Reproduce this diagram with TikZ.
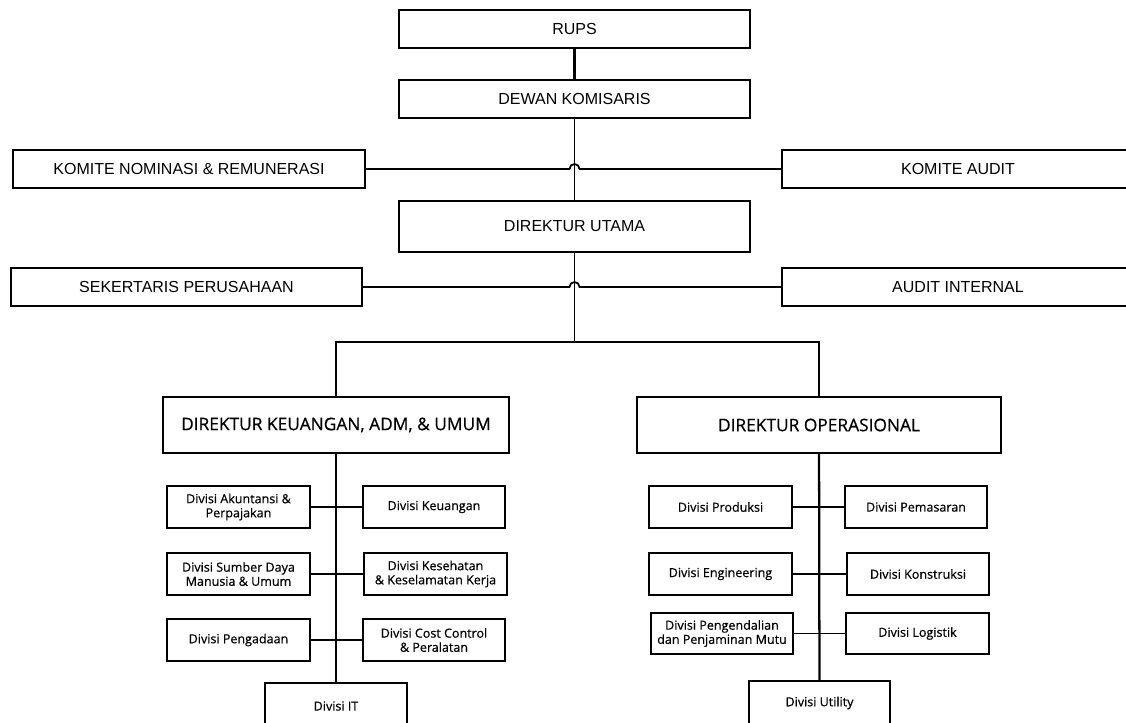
\documentclass[tikz,border=0pt]{standalone}
\usepackage{fontspec}
\setmainfont{Liberation Sans}
\newfontfamily\divfont{Open Sans}[FakeBold=0.6]
\usetikzlibrary{positioning, calc}

\tikzset{
	dim/.style 2 args={minimum width=#1*0.75pt, minimum height=#2*0.75pt},
	topbox/.style={draw, line width=1.2pt, inner sep=0pt, font=\fontsize{12}{14}\selectfont},
	dirbox/.style={draw, line width=1.3pt, inner sep=0pt, font=\divfont\fontsize{13}{15}\selectfont},
	divbox/.style={draw, line width=1.3pt, inner sep=0pt, align=center, font=\divfont\fontsize{9.4}{10.6}\selectfont},
	link/.style={line width=1.3pt},
	trunk/.style={line width=1.7pt}
}

\begin{document}
\begin{tikzpicture}[x=0.75pt, y=-0.75pt]
	\useasboundingbox (0,0) rectangle (1126,722);
	% top of the chart
	\node[topbox, dim={351}{38}] (rups) at (574.5,29) {RUPS};
	\node[topbox, dim={351}{38}] (dewan) at (574.5,99) {DEWAN KOMISARIS};
	\node[topbox, dim={352}{38}] (nominasi) at (189,169) {KOMITE NOMINASI \& REMUNERASI};
	\node[topbox, dim={352}{38}] (komaudit) at (958,169) {KOMITE AUDIT};
	\node[topbox, dim={351}{51}] (utama) at (574.5,226.5) {DIREKTUR UTAMA};
	\node[topbox, dim={351}{38}] (sekper) at (186.5,287) {SEKERTARIS PERUSAHAAN};
	\node[topbox, dim={352}{38}] (auditint) at (958,287) {AUDIT INTERNAL};
	\coordinate (split) at (574.5,342);

	\draw[trunk] (rups) -- (dewan);
	\draw[link] (dewan) -- (utama);
	\draw[link] (nominasi) -- ($(nominasi.east -| dewan.south)+(-5,0)$) arc (180:360:5) -- (komaudit);
	\draw[link] (utama) -- (split);
	\draw[link] (sekper) -- ($(sekper.east -| utama.south)+(-5,0)$) arc (180:360:5) -- (auditint);

	% the two directors
	\node[dirbox, dim={346}{56}] (dkeu) at (336,425) {DIREKTUR KEUANGAN, ADM, \& UMUM};
	\node[dirbox, dim={364}{56}] (dops) at (819,425) {DIREKTUR OPERASIONAL};
	\draw[link] (dkeu) -- (dkeu.north |- split) -- (dops.north |- split) -- (dops);

	% divisions under keuangan
	\node[divbox, dim={143}{42}] (akun) at (238.5,507) {Divisi Akuntansi \&\\Perpajakan};
	\node[divbox, dim={142}{42}] (keu) at (434,507) {Divisi Keuangan};
	\node[divbox, dim={143}{42}] (sdm) at (238.5,574) {Divisi Sumber Daya\\Manusia \& Umum};
	\node[divbox, dim={143}{42}] (ktiga) at (435.5,574) {Divisi Kesehatan\\\& Keselamatan Kerja};
	\node[divbox, dim={143}{42}] (pengadaan) at (238.5,640) {Divisi Pengadaan};
	\node[divbox, dim={142}{42}] (cost) at (434,640) {Divisi Cost Control\\\& Peralatan};
	\node[divbox, dim={142}{46}] (it) at (336,706) {Divisi IT};
	\draw[trunk] (dkeu) -- (it);
	\draw[link] (akun) -- (keu);
	\draw[link] (sdm) -- (ktiga);
	\draw[link] (pengadaan) -- (cost);

	% divisions under operasional
	\node[divbox, dim={143}{42}] (produksi) at (720.5,507) {Divisi Produksi};
	\node[divbox, dim={142}{42}] (pemasaran) at (916,507) {Divisi Pemasaran};
	\node[divbox, dim={143}{42}] (engineering) at (720.5,574) {Divisi Engineering};
	\node[divbox, dim={142}{42}] (konstruksi) at (918,574) {Divisi Konstruksi};
	\node[divbox, dim={142}{41}] (mutu) at (722,633.5) {Divisi Pengendalian\\dan Penjaminan Mutu};
	\node[divbox, dim={143}{41}] (logistik) at (917.5,633.5) {Divisi Logistik};
	\node[divbox, dim={141}{44}] (utility) at (819.5,703) {Divisi Utility};
	\draw[trunk] (dops) -- (utility);
	\draw[link] (produksi) -- (pemasaran);
	\draw[link] (engineering) -- (konstruksi);
	\draw[link] (mutu) -- (logistik);
\end{tikzpicture}
\end{document}
